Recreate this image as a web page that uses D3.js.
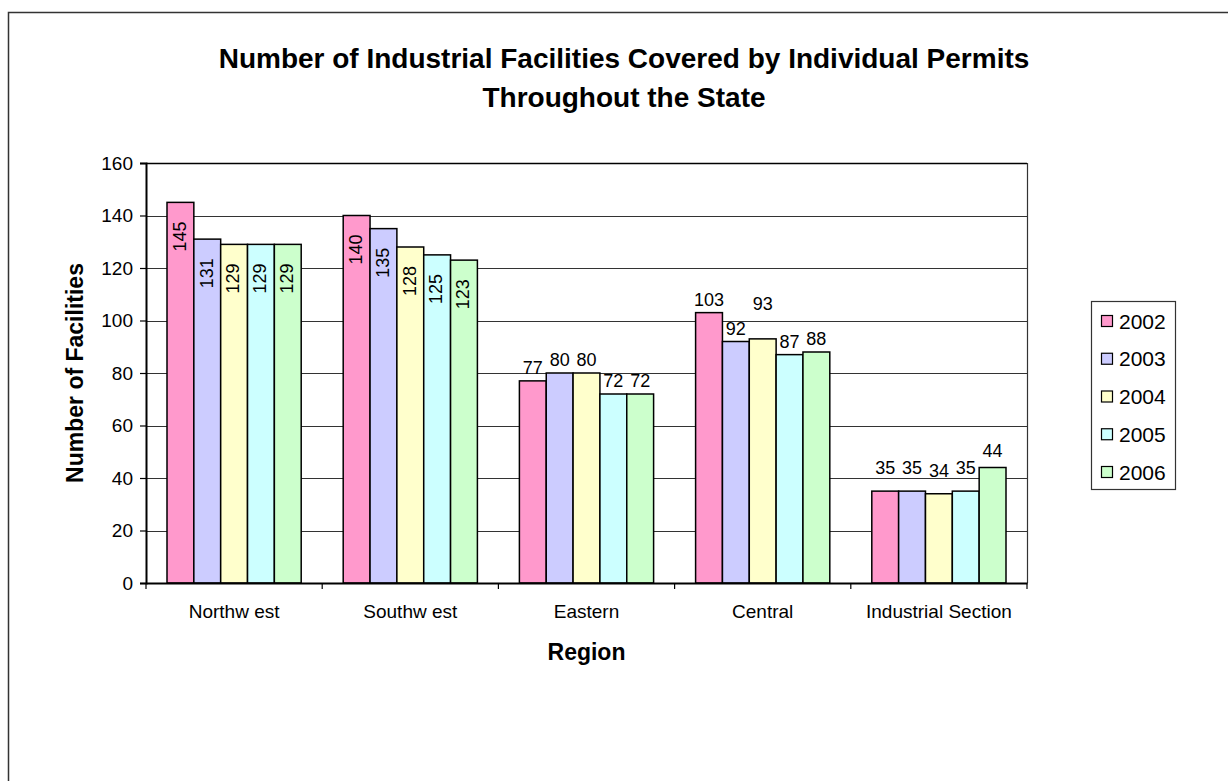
<!DOCTYPE html>
<html>
<head>
<meta charset="utf-8">
<script src="https://cdn.jsdelivr.net/npm/d3@7.9.0/dist/d3.min.js"></script>
<style>
  html, body { margin: 0; padding: 0; background: #fff; }
  svg { display: block; font-family: "Liberation Sans", Arial, sans-serif; }
</style>
</head>
<body>
<script>
// chart data
const regions = ["Northw est", "Southw est", "Eastern", "Central", "Industrial Section"];
const years = ["2002", "2003", "2004", "2005", "2006"];
const values = {
  "2002": [145, 140, 77, 103, 35],
  "2003": [131, 135, 80, 92, 35],
  "2004": [129, 128, 80, 93, 34],
  "2005": [129, 125, 72, 87, 35],
  "2006": [129, 123, 72, 88, 44]
};
const yTicks = [0, 20, 40, 60, 80, 100, 120, 140, 160];
const colors = ["#ff99cc", "#ccccff", "#ffffcc", "#ccffff", "#ccffcc"];

const W = 1228, H = 781;
const plot = { left: 146, right: 1027, top: 163, bottom: 583 };

const svg = d3.select("body").append("svg")
    .attr("width", W)
    .attr("height", H);

// outer chart frame (runs off right and bottom edge)
svg.append("rect")
    .attr("x", 8.5).attr("y", 12.5)
    .attr("width", W + 20).attr("height", H + 20)
    .attr("fill", "#fff")
    .attr("stroke", "#333")
    .attr("stroke-width", 1.5);

const x0 = d3.scaleBand()
    .domain(regions)
    .range([plot.left, plot.right]);

const x1 = d3.scaleBand()
    .domain(years)
    .range([21, x0.bandwidth() - 21]);

const y = d3.scaleLinear()
    .domain([0, 160])
    .range([plot.bottom, plot.top]);

const color = d3.scaleOrdinal().domain(years).range(colors);

// gridlines
svg.append("g")
    .selectAll("line")
    .data(yTicks.filter(d => d > 0))
    .join("line")
    .attr("x1", plot.left).attr("x2", plot.right)
    .attr("y1", d => Math.round(y(d)) + 0.5)
    .attr("y2", d => Math.round(y(d)) + 0.5)
    .attr("stroke", d => d === 160 ? "#000" : "#333")
    .attr("stroke-width", d => d === 160 ? 1.5 : 1.2);

// right border of plot
svg.append("line")
    .attr("x1", plot.right + 0.5).attr("x2", plot.right + 0.5)
    .attr("y1", plot.top).attr("y2", plot.bottom)
    .attr("stroke", "#333")
    .attr("stroke-width", 1.2);

// flatten data for bars
const cells = [];
regions.forEach((r, i) => {
  years.forEach(yr => cells.push({ region: r, year: yr, value: values[yr][i] }));
});

svg.append("g")
    .selectAll("rect")
    .data(cells)
    .join("rect")
    .attr("x", d => x0(d.region) + x1(d.year))
    .attr("y", d => y(d.value))
    .attr("width", x1.bandwidth())
    .attr("height", d => y(0) - y(d.value))
    .attr("fill", d => color(d.year))
    .attr("stroke", "#000")
    .attr("stroke-width", 1.5);

// y axis
const yAxis = svg.append("g")
    .attr("transform", `translate(${plot.left},0)`)
    .call(d3.axisLeft(y).tickValues(yTicks).tickSize(6).tickPadding(7));
yAxis.select(".domain").attr("stroke", "#000").attr("stroke-width", 2);
yAxis.selectAll(".tick line").attr("stroke", "#000").attr("stroke-width", 1.2);
yAxis.selectAll(".tick text")
    .attr("font-size", 19)
    .attr("font-family", "Liberation Sans, Arial, sans-serif")
    .attr("fill", "#000");

// x axis
const xAxis = svg.append("g")
    .attr("transform", `translate(0,${plot.bottom})`)
    .call(d3.axisBottom(x0).tickSize(0).tickPadding(22));
xAxis.select(".domain").attr("stroke", "#000").attr("stroke-width", 2);
xAxis.selectAll(".tick text")
    .attr("font-size", 19)
    .attr("font-family", "Liberation Sans, Arial, sans-serif")
    .attr("fill", "#000");

// category separator ticks
svg.append("g")
    .selectAll("line")
    .data(regions.concat(["_end"]))
    .join("line")
    .attr("x1", (d, i) => plot.left + i * x0.bandwidth())
    .attr("x2", (d, i) => plot.left + i * x0.bandwidth())
    .attr("y1", plot.bottom)
    .attr("y2", plot.bottom + 6)
    .attr("stroke", "#000")
    .attr("stroke-width", 1.2);

// data labels: rotated inside the tall bars, above the others
const insideRegions = ["Northw est", "Southw est"];
const labelLift = { "Central|2004": 22, "Industrial Section|2002": 10, "Industrial Section|2003": 10,
  "Industrial Section|2004": 10, "Industrial Section|2005": 10, "Industrial Section|2006": 4 };

svg.append("g")
    .selectAll("text")
    .data(cells)
    .join("text")
    .attr("font-size", 18)
    .attr("fill", "#000")
    .each(function (d) {
      const cx = x0(d.region) + x1(d.year) + x1.bandwidth() / 2;
      const t = d3.select(this).text(d.value);
      if (insideRegions.includes(d.region)) {
        t.attr("text-anchor", "end")
         .attr("transform", `translate(${cx - 1},${y(d.value) + 19}) rotate(-90)`)
         .attr("dy", "0.35em");
      } else {
        const lift = labelLift[d.region + "|" + d.year] || 0;
        t.attr("text-anchor", "middle")
         .attr("x", cx)
         .attr("y", y(d.value) - 7 - lift);
      }
    });

// titles
const title = svg.append("text")
    .attr("text-anchor", "middle")
    .attr("font-size", 28)
    .attr("font-weight", "bold");
title.append("tspan").attr("x", 624).attr("y", 68)
    .text("Number of Industrial Facilities Covered by Individual Permits");
title.append("tspan").attr("x", 624).attr("y", 107)
    .text("Throughout the State");

svg.append("text")
    .attr("x", (plot.left + plot.right) / 2)
    .attr("y", 660)
    .attr("text-anchor", "middle")
    .attr("font-size", 23)
    .attr("font-weight", "bold")
    .text("Region");

svg.append("text")
    .attr("transform", `translate(83,${(plot.top + plot.bottom) / 2}) rotate(-90)`)
    .attr("text-anchor", "middle")
    .attr("font-size", 23)
    .attr("font-weight", "bold")
    .text("Number of Facilities");

// legend
const legend = svg.append("g");
legend.append("rect")
    .attr("x", 1091.5).attr("y", 301.5)
    .attr("width", 84).attr("height", 188)
    .attr("fill", "#fff")
    .attr("stroke", "#333")
    .attr("stroke-width", 1.2);

const rowY = d3.scalePoint().domain(years).range([321, 472]);
const rows = legend.selectAll("g.row")
    .data(years)
    .join("g")
    .attr("class", "row")
    .attr("transform", d => `translate(1101,${rowY(d)})`);
rows.append("rect")
    .attr("x", 0.5).attr("y", -5.5)
    .attr("width", 11).attr("height", 11)
    .attr("fill", d => color(d))
    .attr("stroke", "#000")
    .attr("stroke-width", 1.2);
rows.append("text")
    .attr("x", 18)
    .attr("dy", "0.36em")
    .attr("font-size", 21)
    .text(d => d);
</script>
</body>
</html>
